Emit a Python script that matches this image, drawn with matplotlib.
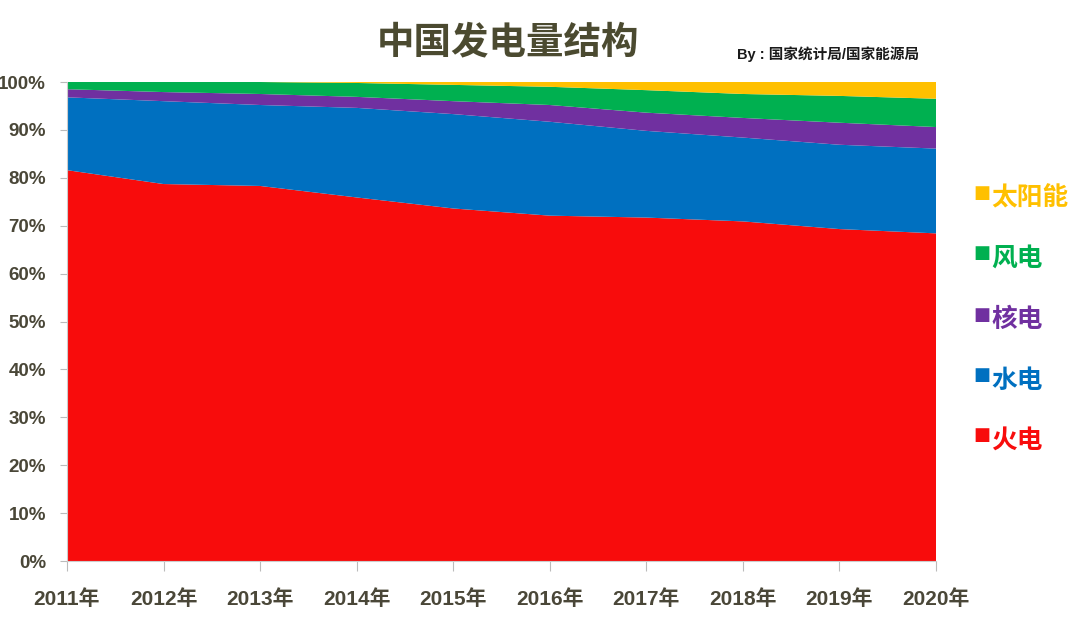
import matplotlib
matplotlib.use("Agg")
import matplotlib.pyplot as plt
import numpy as np

# data (shares in %)
years = ["2011年", "2012年", "2013年", "2014年", "2015年",
         "2016年", "2017年", "2018年", "2019年", "2020年"]
thermal = [81.6, 78.7, 78.3, 75.9, 73.6, 72.1, 71.7, 70.9, 69.3, 68.4]
hydro = [15.2, 17.3, 16.9, 18.7, 19.7, 19.6, 18.1, 17.5, 17.6, 17.7]
nuclear = [1.7, 1.9, 2.3, 2.3, 2.7, 3.5, 3.8, 4.1, 4.6, 4.5]
wind = [1.5, 2.1, 2.5, 2.9, 3.4, 3.8, 4.7, 5.0, 5.6, 5.9]
solar = [0.0, 0.0, 0.1, 0.2, 0.6, 1.0, 1.7, 2.5, 2.9, 3.5]

names = ["火电", "水电", "核电", "风电", "太阳能"]
colors = ["#F80C0C", "#0070C0", "#7030A0", "#00B050", "#FFC000"]

plt.rcParams["font.family"] = ["Liberation Sans", "Noto Sans CJK SC", "DejaVu Sans"]

fig = plt.figure(figsize=(10.8, 6.18), dpi=100)
ax = fig.add_axes([0.062, 0.0922, 0.8047, 0.7751])

x = np.arange(len(years))
ax.stackplot(x, thermal, hydro, nuclear, wind, solar, colors=colors,
             linewidth=0)
ax.set_xlim(0, len(years) - 1)
ax.set_ylim(0, 100)

ax.set_yticks(np.arange(0, 101, 10))
ax.set_yticklabels([f"{v}%" for v in range(0, 101, 10)],
                   fontsize=13.5, fontweight="bold", color="#4a4738")
ax.set_xticks(x)
ax.set_xticklabels(years, fontsize=15, fontweight="bold", color="#4a4738")
ax.tick_params(axis="x", length=7, color="#bbbbbb", pad=13)
ax.tick_params(axis="y", length=5, color="#bbbbbb", pad=10)
for s in ["top", "right"]:
    ax.spines[s].set_visible(False)
for s in ["left", "bottom"]:
    ax.spines[s].set_color("#cccccc")

# title and source
fig.text(0.47, 0.932, "中国发电量结构", ha="center", va="center",
         fontsize=27, fontweight="bold", color="#4b4a30",
         family=["Noto Sans CJK SC"])
fig.text(0.682, 0.913, "By : 国家统计局/国家能源局", ha="left", va="center",
         fontsize=10.5, fontweight="bold", color="#1a1a1a",
         family=["Liberation Sans", "Noto Sans CJK SC"])

# legend: coloured squares + coloured text, top item is the last series
legend_y = [0.679, 0.583, 0.483, 0.385, 0.288]
for i, (name, col) in enumerate(zip(names[::-1], colors[::-1])):
    y = legend_y[i]
    fig.text(0.909, y + 0.008, "■", ha="center", va="center", fontsize=13,
             color=col, family=["DejaVu Sans"])
    fig.text(0.918, y, name, ha="left", va="center", fontsize=18.5,
             fontweight="bold", color=col, family=["Noto Sans CJK SC"])

fig.savefig("out.png", dpi=100)
